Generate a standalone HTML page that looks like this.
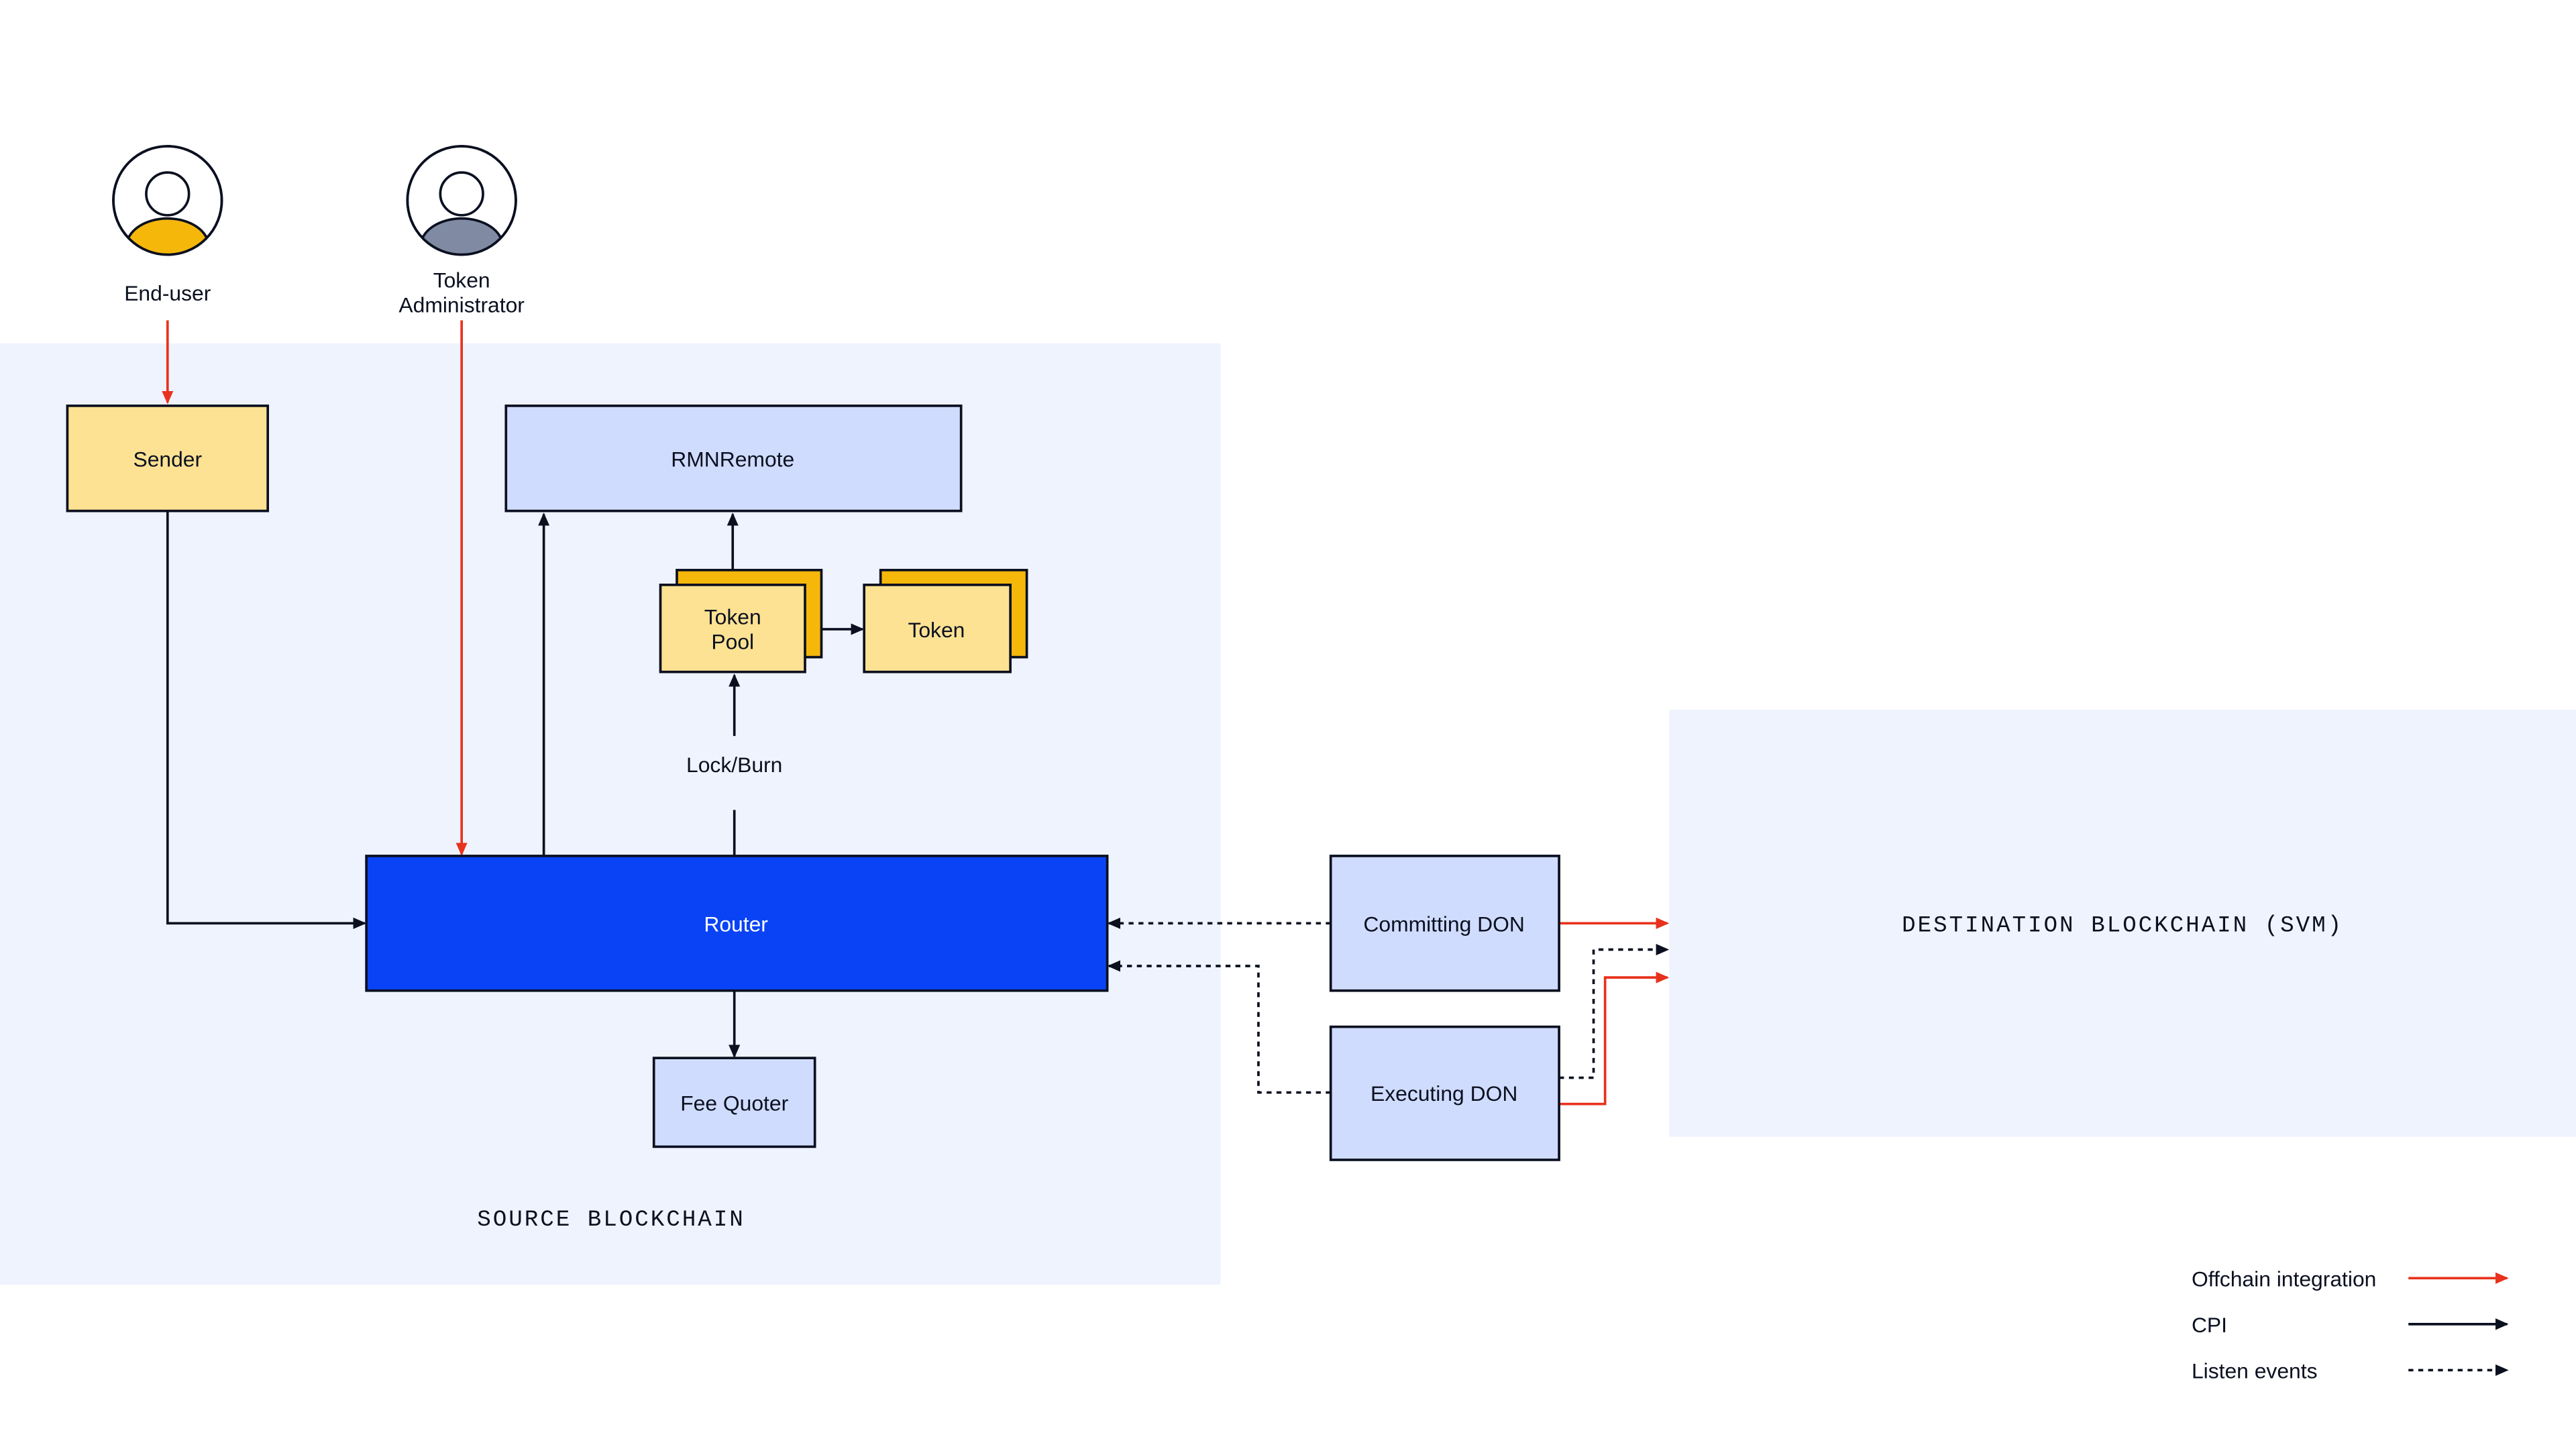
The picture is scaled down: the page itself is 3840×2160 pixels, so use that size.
<!DOCTYPE html>
<html><head><meta charset="utf-8"><style>
html,body{margin:0;padding:0;background:#fff;width:3840px;height:2160px;overflow:hidden}
svg{display:block}
text{font-family:"Liberation Sans",sans-serif;font-size:13px;fill:#0b1020}
.m{font-family:"Liberation Mono",monospace;font-size:14px;letter-spacing:1.2px}
</style></head><body>
<svg width="3840" height="2160" viewBox="0 0 1568 882" xmlns="http://www.w3.org/2000/svg">
<defs>
<marker id="ak" markerWidth="8" markerHeight="8" refX="7" refY="4" orient="auto" markerUnits="userSpaceOnUse"><path d="M0,0.5 L8,4 L0,7.5Z" fill="#0b1020"/></marker>
<marker id="ar" markerWidth="8" markerHeight="8" refX="7" refY="4" orient="auto" markerUnits="userSpaceOnUse"><path d="M0,0.5 L8,4 L0,7.5Z" fill="#e8321d"/></marker>
</defs>
<rect x="0" y="209" width="743" height="573" fill="#eff3fe"/>
<rect x="1016" y="432" width="552" height="260" fill="#eff3fe"/>

<!-- users -->
<g stroke="#0b1020" stroke-width="1.5">
<clipPath id="c1"><circle cx="102" cy="122" r="33"/></clipPath>
<circle cx="102" cy="122" r="33" fill="#fff"/>
<ellipse cx="102" cy="150" rx="25" ry="17" fill="#f5b70a" clip-path="url(#c1)"/>
<circle cx="102" cy="118" r="13" fill="#fff"/>
<circle cx="102" cy="122" r="33" fill="none"/>
<clipPath id="c2"><circle cx="281" cy="122" r="33"/></clipPath>
<circle cx="281" cy="122" r="33" fill="#fff"/>
<ellipse cx="281" cy="150" rx="25" ry="17" fill="#808ba3" clip-path="url(#c2)"/>
<circle cx="281" cy="118" r="13" fill="#fff"/>
<circle cx="281" cy="122" r="33" fill="none"/>
</g>
<text x="102" y="183" text-anchor="middle">End-user</text>
<text x="281" y="175" text-anchor="middle">Token</text>
<text x="281" y="190" text-anchor="middle">Administrator</text>

<!-- connectors -->
<g fill="none" stroke-width="1.5">
<path d="M102,195 V245" stroke="#e8321d" marker-end="url(#ar)"/>
<path d="M281,195 V520" stroke="#e8321d" marker-end="url(#ar)"/>
<path d="M102,311 V562 H222" stroke="#0b1020" marker-end="url(#ak)"/>
<path d="M331,521 V313" stroke="#0b1020" marker-end="url(#ak)"/>
<path d="M446,356 V313" stroke="#0b1020" marker-end="url(#ak)"/>
<path d="M490,383 H525" stroke="#0b1020" marker-end="url(#ak)"/>
<path d="M447,521 V493" stroke="#0b1020"/>
<path d="M447,448 V411" stroke="#0b1020" marker-end="url(#ak)"/>
<path d="M447,603 V643" stroke="#0b1020" marker-end="url(#ak)"/>
<path d="M810,562 H675" stroke="#0b1020" stroke-dasharray="3,3" marker-end="url(#ak)"/>
<path d="M810,665 H766 V588 H675" stroke="#0b1020" stroke-dasharray="3,3" marker-end="url(#ak)"/>
<path d="M949,562 H1015" stroke="#e8321d" marker-end="url(#ar)"/>
<path d="M949,656 H970 V578 H1015" stroke="#0b1020" stroke-dasharray="3,3" marker-end="url(#ak)"/>
<path d="M949,672 H977 V595 H1015" stroke="#e8321d" marker-end="url(#ar)"/>
<path d="M1466,778 H1526" stroke="#e8321d" marker-end="url(#ar)"/>
<path d="M1466,806 H1526" stroke="#0b1020" marker-end="url(#ak)"/>
<path d="M1466,834 H1526" stroke="#0b1020" stroke-dasharray="3,3" marker-end="url(#ak)"/>
</g>

<!-- boxes -->
<g stroke="#0b1020" stroke-width="1.5">
<rect x="41" y="247" width="122" height="64" fill="#fde293"/>
<rect x="308" y="247" width="277" height="64" fill="#d0dcfd"/>
<rect x="412" y="347" width="88" height="53" fill="#f5b70a"/>
<rect x="402" y="356" width="88" height="53" fill="#fde293"/>
<rect x="536" y="347" width="89" height="53" fill="#f5b70a"/>
<rect x="526" y="356" width="89" height="53" fill="#fde293"/>
<rect x="223" y="521" width="451" height="82" fill="#0a43f5"/>
<rect x="398" y="644" width="98" height="54" fill="#d0dcfd"/>
<rect x="810" y="521" width="139" height="82" fill="#d0dcfd"/>
<rect x="810" y="625" width="139" height="81" fill="#d0dcfd"/>
</g>
<text x="102" y="284" text-anchor="middle">Sender</text>
<text x="446" y="284" text-anchor="middle">RMNRemote</text>
<text x="446" y="380" text-anchor="middle">Token</text>
<text x="446" y="395" text-anchor="middle">Pool</text>
<text x="570" y="388" text-anchor="middle">Token</text>
<text x="447" y="470" text-anchor="middle">Lock/Burn</text>
<text x="448" y="567" text-anchor="middle" style="fill:#fff">Router</text>
<text x="447" y="676" text-anchor="middle">Fee Quoter</text>
<text x="879" y="567" text-anchor="middle">Committing DON</text>
<text x="879" y="670" text-anchor="middle">Executing DON</text>
<text class="m" x="372" y="746" text-anchor="middle">SOURCE BLOCKCHAIN</text>
<text class="m" x="1292" y="567" text-anchor="middle">DESTINATION BLOCKCHAIN (SVM)</text>
<text x="1334" y="783">Offchain integration</text>
<text x="1334" y="811">CPI</text>
<text x="1334" y="839">Listen events</text>
</svg>
</body></html>
